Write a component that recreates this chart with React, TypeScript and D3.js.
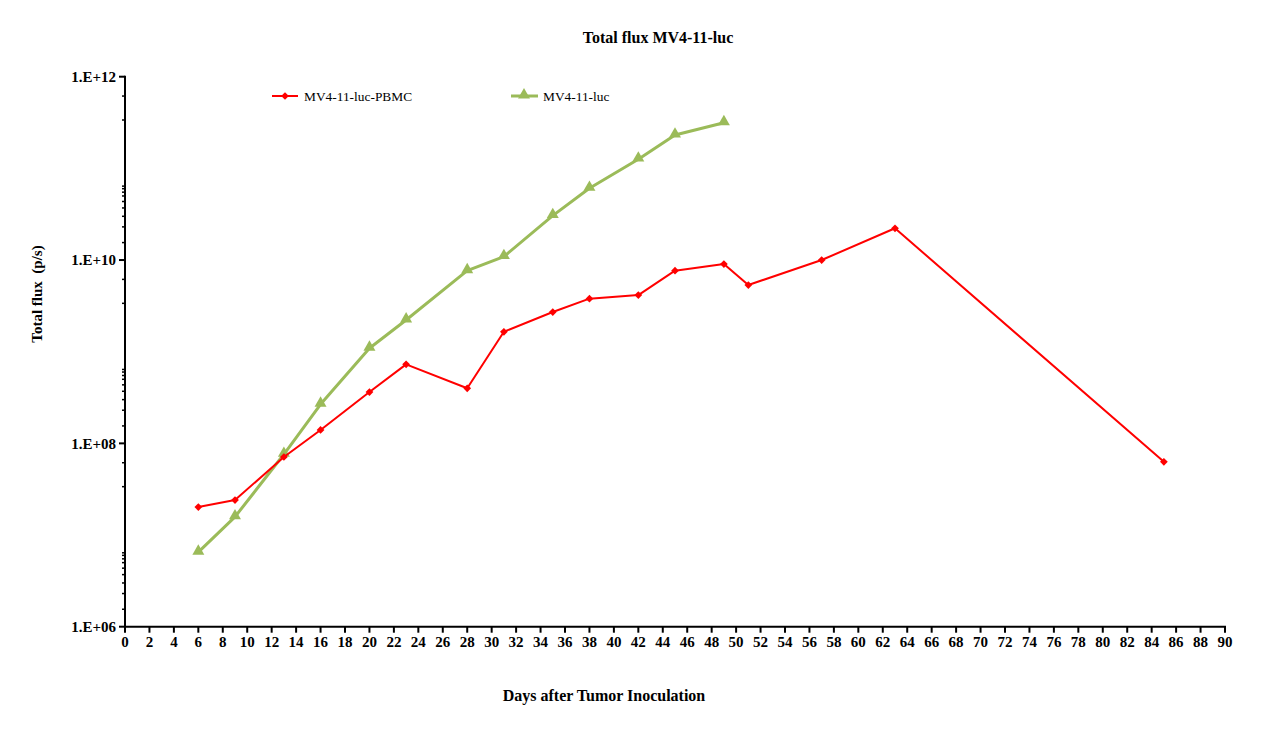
import React from "react";
import * as d3 from "d3";

// days after inoculation
const PBMC_DAYS = [6, 9, 13, 16, 20, 23, 28, 31, 35, 38, 42, 45, 49, 51, 57, 63, 85];
const PBMC_FLUX = [
  2.02e7, 2.41e7, 7.1e7, 1.4e8, 3.63e8, 7.28e8, 3.99e8, 1.65e9, 2.71e9, 3.79e9,
  4.15e9, 7.65e9, 9.05e9, 5.34e9, 1.0e10, 2.22e10, 6.3e7,
];

const LUC_DAYS = [6, 9, 13, 16, 20, 23, 28, 31, 35, 38, 42, 45, 49];
const LUC_FLUX = [
  6.5e6, 1.58e7, 7.6e7, 2.67e8, 1.09e9, 2.22e9, 7.65e9, 1.09e10, 3.05e10, 6.06e10,
  1.26e11, 2.31e11, 3.15e11,
];

const Y_MAJOR = [1e6, 1e8, 1e10, 1e12];
const Y_LABELS = ["1.E+06", "1.E+08", "1.E+10", "1.E+12"];
// minor tick multipliers inside each 2-decade step, as drawn in the original
const Y_MINOR_MULT = [1.55, 2.3, 3.0, 3.7, 4.35, 5.0, 5.5, 6.0, 6.4, 33.7, 61.5];
const X_TICKS = d3.range(0, 91, 2);

const RED = "#ff0000";
const GREEN = "#9bbb59";
const FONT = "'Liberation Serif', 'Times New Roman', serif";

export default function App() {
  const width = 1261;
  const height = 743;

  const x = d3.scaleLinear().domain([0, 90]).range([125, 1225]);
  const y = d3.scaleLog().domain([1e6, 1e12]).range([626.7, 76.7]);

  const line = d3
    .line<[number, number]>()
    .x((d) => x(d[0]))
    .y((d) => y(d[1]));

  const pbmc: [number, number][] = PBMC_DAYS.map((d, i) => [d, PBMC_FLUX[i]]);
  const luc: [number, number][] = LUC_DAYS.map((d, i) => [d, LUC_FLUX[i]]);

  const diamond = d3.symbol(d3.symbolSquare, 30)() || "";
  const triangle = d3.symbol(d3.symbolTriangle, 62)() || "";

  const minorTicks: number[] = [];
  Y_MAJOR.slice(0, -1).forEach((m) => Y_MINOR_MULT.forEach((k) => minorTicks.push(m * k)));

  const x0 = x(0);
  const yBase = y(1e6);

  return (
    <svg
      width={width}
      height={height}
      style={{ position: "absolute", left: 0, top: 0, background: "#fff", fontFamily: FONT }}
    >
      {/* title */}
      <text x={658} y={43} textAnchor="middle" fontSize={16} fontWeight={700}>
        Total flux MV4-11-luc
      </text>

      {/* axis titles */}
      <text
        transform={`translate(42,294) rotate(-90)`}
        textAnchor="middle"
        fontSize={15}
        fontWeight={700}
        style={{ whiteSpace: "pre" }}
      >
        {"Total flux  (p/s)"}
      </text>
      <text x={604} y={701} textAnchor="middle" fontSize={16} fontWeight={700}>
        Days after Tumor Inoculation
      </text>

      {/* y axis */}
      <line x1={x0} x2={x0} y1={y(1e12) - 1} y2={yBase + 1} stroke="#000" strokeWidth={2} />
      {minorTicks.map((v, i) => (
        <line key={"m" + i} x1={x0 - 3} x2={x0} y1={y(v)} y2={y(v)} stroke="#000" strokeWidth={1.5} />
      ))}
      {Y_MAJOR.map((v, i) => (
        <g key={"y" + i}>
          <line x1={x0 - 6} x2={x0} y1={y(v)} y2={y(v)} stroke="#000" strokeWidth={2} />
          <text x={x0 - 9} y={y(v)} dy="0.35em" textAnchor="end" fontSize={15} fontWeight={700}>
            {Y_LABELS[i]}
          </text>
        </g>
      ))}

      {/* x axis */}
      <line x1={x0 - 1} x2={x(90) + 1} y1={yBase} y2={yBase} stroke="#000" strokeWidth={2} />
      {X_TICKS.map((t) => (
        <g key={"x" + t}>
          <line x1={x(t)} x2={x(t)} y1={yBase} y2={yBase + 6} stroke="#000" strokeWidth={2} />
          <text x={x(t)} y={yBase + 20} textAnchor="middle" fontSize={15} fontWeight={700}>
            {t}
          </text>
        </g>
      ))}

      {/* series */}
      <path d={line(luc) || ""} fill="none" stroke={GREEN} strokeWidth={3} strokeLinejoin="round" />
      {luc.map((d, i) => (
        <path key={"g" + i} d={triangle} transform={`translate(${x(d[0])},${y(d[1]) - 1})`} fill={GREEN} />
      ))}
      <path d={line(pbmc) || ""} fill="none" stroke={RED} strokeWidth={2} strokeLinejoin="round" />
      {pbmc.map((d, i) => (
        <path key={"r" + i} d={diamond} transform={`translate(${x(d[0])},${y(d[1])}) rotate(45)`} fill={RED} />
      ))}

      {/* legend */}
      <line x1={272} x2={298} y1={96} y2={96} stroke={RED} strokeWidth={2} />
      <path d={diamond} transform="translate(285,96) rotate(45)" fill={RED} />
      <text x={304} y={100.5} fontSize={13.4}>
        MV4-11-luc-PBMC
      </text>
      <line x1={511} x2={538} y1={96} y2={96} stroke={GREEN} strokeWidth={3} />
      <path d={triangle} transform="translate(524,95)" fill={GREEN} />
      <text x={543} y={100.5} fontSize={13.4}>
        MV4-11-luc
      </text>
    </svg>
  );
}
